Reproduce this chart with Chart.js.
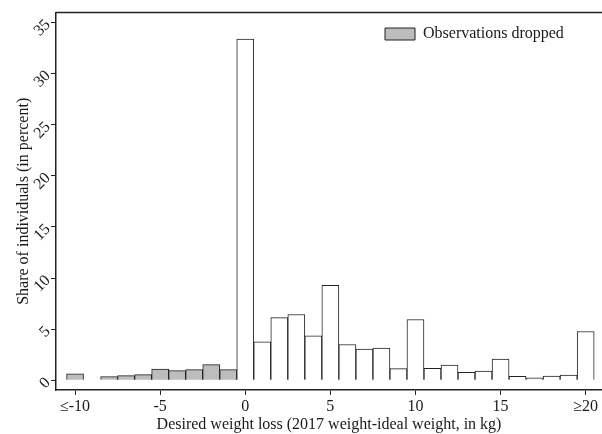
<!DOCTYPE html>
<html>
<head>
<meta charset="utf-8">
<script src="https://cdn.jsdelivr.net/npm/chart.js@4/dist/chart.umd.min.js"></script>
<style>
  body { margin: 0; background: #fff; }
  #wrap { width: 602px; height: 434px; }
</style>
</head>
<body>
<div id="wrap"><canvas id="hist"></canvas></div>
<script>
// bins (kg) and shares (percent)
var droppedBins = [-10, -8, -7, -6, -5, -4, -3, -2, -1];
var droppedShare = [0.62, 0.36, 0.45, 0.55, 1.10, 0.94, 1.04, 1.53, 1.04];

var keptBins = [0, 1, 2, 3, 4, 5, 6, 7, 8, 9, 10, 11, 12, 13, 14, 15, 16, 17, 18, 19, 20];
var keptShare = [33.35, 3.77, 6.13, 6.43, 4.35, 9.28, 3.5, 3.05, 3.15, 1.14, 5.94,
                 1.17, 1.49, 0.78, 0.91, 2.08, 0.39, 0.23, 0.42, 0.52, 4.77];

var xTicks = [-10, -5, 0, 5, 10, 15, 20];
var xTickLabels = ['≤-10', '-5', '0', '5', '10', '15', '≥20'];
var yTicks = [0, 5, 10, 15, 20, 25, 30, 35];

var serif = "'Liberation Serif', 'Times New Roman', serif";
var ink = '#1a1a1a';

function toPoints(xs, ys) {
    return xs.map(function (x, i) { return { x: x, y: ys[i] }; });
}

// top frame line, legend moved to the top right of the plot
var frame = {
    id: 'frame',
    afterLayout: function (chart) {
        chart.legend.left += 315;
        chart.legend.top += 12;
    },
    afterDraw: function (chart) {
        var a = chart.chartArea, ctx = chart.ctx;
        ctx.save();
        ctx.strokeStyle = '#222';
        ctx.lineWidth = 1.5;
        ctx.beginPath();
        ctx.moveTo(a.left, a.top);
        ctx.lineTo(a.right, a.top);
        ctx.stroke();
        ctx.restore();
    }
};

var ctx = document.getElementById('hist').getContext('2d');

new Chart(ctx, {
    type: 'bar',
    data: {
        datasets: [{
            label: 'Observations dropped',
            data: toPoints(droppedBins, droppedShare),
            backgroundColor: '#bdbdbd',
            borderColor: '#222',
            borderWidth: 1
        }, {
            label: 'Kept',
            data: toPoints(keptBins, keptShare),
            backgroundColor: '#ffffff',
            borderColor: '#222',
            borderWidth: 1
        }]
    },
    options: {
        responsive: true,
        maintainAspectRatio: false,
        animation: false,
        grouped: false,
        barPercentage: 1,
        categoryPercentage: 1,
        layout: { padding: { top: 11, right: 0, bottom: 0, left: 0 } },
        plugins: {
            tooltip: { enabled: false },
            legend: {
                position: 'chartArea',
                align: 'start',
                labels: {
                    filter: function (item) { return item.datasetIndex === 0; },
                    boxWidth: 30,
                    boxHeight: 12,
                    padding: 14,
                    color: ink,
                    font: { family: serif, size: 16 }
                }
            }
        },
        scales: {
            x: {
                type: 'linear',
                offset: false,
                min: -11.12,
                max: 20.96,
                afterFit: function (s) { s.height = 44; },
                afterBuildTicks: function (s) {
                    s.ticks = xTicks.map(function (v) { return { value: v }; });
                },
                grid: { offset: false, drawOnChartArea: false, tickLength: 5, tickColor: '#222', tickWidth: 1 },
                border: { color: '#222', width: 1.5 },
                ticks: {
                    maxRotation: 0,
                    autoSkip: false,
                    padding: 2,
                    color: ink,
                    font: { family: serif, size: 16 },
                    callback: function (v) {
                        var i = xTicks.indexOf(v);
                        return i >= 0 ? xTickLabels[i] : '';
                    }
                },
                title: {
                    display: true,
                    text: 'Desired weight loss (2017 weight-ideal weight, in kg)',
                    color: ink,
                    padding: { top: 0, bottom: 0 },
                    font: { family: serif, size: 16 }
                }
            },
            y: {
                min: -0.95,
                max: 35.95,
                afterFit: function (s) { s.width = 56; },
                afterBuildTicks: function (s) {
                    s.ticks = yTicks.map(function (v) { return { value: v }; });
                },
                grid: { drawOnChartArea: false, tickLength: 5, tickColor: '#222', tickWidth: 1 },
                border: { color: '#222', width: 1.5 },
                ticks: {
                    minRotation: 45,
                    maxRotation: 45,
                    padding: 3,
                    color: ink,
                    font: { family: serif, size: 16 }
                },
                title: {
                    display: true,
                    text: 'Share of individuals (in percent)',
                    color: ink,
                    padding: { top: 14, bottom: 0 },
                    font: { family: serif, size: 16 }
                }
            }
        }
    },
    plugins: [frame]
});
</script>
</body>
</html>
